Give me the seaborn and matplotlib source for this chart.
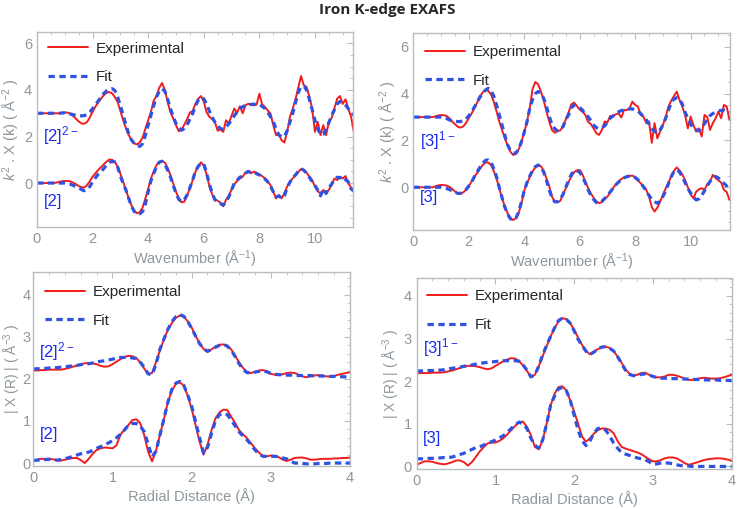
import numpy as np
import matplotlib
matplotlib.use("Agg")
import matplotlib.pyplot as plt
import seaborn as sns
from matplotlib.ticker import MultipleLocator

# ---- k-space (top row), sampled every 0.1 A^-1 from 0 to 11.4 ----
k = np.round(np.arange(0, 11.41, 0.1), 1)

# [2] panel, dianion trace (offset +3) and neutral trace
k2_exp_hi = [3.00, 3.00, 3.00, 3.00, 3.00, 3.00, 3.00, 3.00, 3.00, 3.02,
             3.03, 3.03, 2.98, 2.88, 2.77, 2.65, 2.56, 2.55, 2.62, 2.82,
             3.06, 3.28, 3.46, 3.63, 3.77, 3.88, 3.91, 3.86, 3.70, 3.49,
             3.10, 2.70, 2.35, 2.06, 1.85, 1.70, 1.66, 1.76, 1.95, 2.34,
             2.70, 3.06, 3.55, 3.75, 4.10, 4.30, 4.00, 3.49, 3.05, 2.78,
             2.49, 2.23, 2.30, 2.51, 2.75, 3.03, 3.10, 3.40, 3.62, 3.74,
             3.50, 3.05, 2.85, 2.75, 2.62, 2.25, 2.30, 2.20, 2.70, 2.56,
             2.90, 3.20, 3.03, 3.30, 3.00, 3.34, 3.41, 3.36, 3.34, 3.37,
             3.84, 3.38, 3.27, 3.12, 2.99, 2.49, 2.06, 2.10, 1.84, 1.74,
             2.20, 2.84, 3.20, 3.60, 4.10, 4.60, 4.20, 4.13, 3.70, 3.20,
             2.20, 2.63, 2.06, 2.49, 2.06, 2.63, 2.80, 3.20, 3.63, 3.74,
             3.40, 3.60, 3.20, 2.84, 2.20]
k2_fit_hi = [3.00, 3.00, 3.00, 3.00, 3.00, 3.00, 3.00, 3.00, 3.00, 3.01,
             3.02, 3.00, 2.97, 2.94, 2.91, 2.89, 2.89, 2.90, 2.94, 3.05,
             3.20, 3.36, 3.52, 3.70, 3.85, 3.96, 4.04, 4.06, 3.98, 3.70,
             3.34, 2.92, 2.49, 2.12, 1.85, 1.70, 1.60, 1.58, 1.70, 2.05,
             2.49, 2.92, 3.34, 3.70, 3.95, 4.06, 3.95, 3.60, 3.20, 2.86,
             2.56, 2.38, 2.27, 2.35, 2.49, 2.75, 2.99, 3.30, 3.56, 3.68,
             3.62, 3.40, 3.10, 2.84, 2.62, 2.45, 2.34, 2.31, 2.40, 2.55,
             2.70, 2.90, 3.05, 3.20, 3.28, 3.34, 3.37, 3.38, 3.39, 3.39,
             3.36, 3.30, 3.20, 3.05, 2.85, 2.63, 2.35, 2.06, 2.00, 1.99,
             2.25, 2.63, 3.00, 3.45, 3.90, 4.15, 4.17, 4.00, 3.60, 3.15,
             2.70, 2.35, 2.08, 2.10, 2.30, 2.60, 2.90, 3.15, 3.40, 3.51,
             3.45, 3.35, 3.20, 3.05, 2.91]
k2_exp_lo = [0.00, 0.00, 0.00, 0.00, 0.00, 0.00, 0.00, 0.02, 0.05, 0.08,
             0.09, 0.09, 0.07, 0.02, -0.05, -0.13, -0.18, -0.19, -0.09, 0.08,
             0.27, 0.42, 0.56, 0.68, 0.80, 0.92, 1.01, 1.00, 0.92, 0.70,
             0.40, 0.06, -0.30, -0.66, -0.97, -1.20, -1.30, -1.25, -1.05, -0.66,
             -0.25, 0.20, 0.50, 0.77, 0.90, 0.94, 0.88, 0.65, 0.34, -0.02,
             -0.37, -0.65, -0.83, -0.80, -0.55, -0.23, 0.12, 0.49, 0.72, 0.89,
             0.75, 0.38, -0.12, -0.48, -0.70, -0.76, -0.85, -1.00, -0.72, -0.55,
             -0.28, -0.05, 0.09, 0.20, 0.27, 0.45, 0.51, 0.42, 0.49, 0.44,
             0.37, 0.30, 0.20, 0.08, -0.09, -0.37, -0.66, -0.52, -0.66, -0.44,
             -0.15, 0.06, 0.20, 0.34, 0.48, 0.60, 0.55, 0.45, 0.27, 0.13,
             -0.16, -0.35, -0.45, -0.30, -0.40, -0.30, -0.05, 0.19, 0.13, 0.27,
             0.20, 0.30, -0.01, -0.20, -0.30]
k2_fit_lo = [0.00, 0.00, 0.00, 0.00, 0.00, 0.00, 0.00, 0.00, 0.00, 0.00,
             0.00, -0.02, -0.05, -0.10, -0.15, -0.20, -0.28, -0.33, -0.27, -0.15,
             0.06, 0.22, 0.38, 0.49, 0.62, 0.77, 0.88, 0.93, 0.90, 0.70,
             0.30, -0.02, -0.30, -0.66, -1.00, -1.22, -1.34, -1.32, -1.22, -0.90,
             -0.37, 0.10, 0.41, 0.70, 0.90, 0.94, 0.80, 0.56, 0.27, -0.10,
             -0.44, -0.70, -0.80, -0.72, -0.51, -0.20, 0.13, 0.50, 0.72, 0.85,
             0.82, 0.45, -0.05, -0.42, -0.72, -0.80, -0.88, -0.95, -0.80, -0.60,
             -0.30, 0.00, 0.12, 0.25, 0.30, 0.42, 0.50, 0.45, 0.48, 0.40,
             0.35, 0.28, 0.18, 0.05, -0.12, -0.38, -0.60, -0.55, -0.65, -0.55,
             -0.20, 0.04, 0.22, 0.35, 0.50, 0.62, 0.55, 0.42, 0.25, 0.05,
             -0.10, -0.30, -0.55, -0.25, -0.45, -0.20, -0.05, 0.15, 0.25, 0.22,
             0.30, 0.15, 0.05, -0.25, -0.35]

# [3] panel, monoanion trace (offset +3) and neutral trace
k3_exp_hi = [3.00, 3.00, 3.00, 3.00, 3.00, 3.00, 3.00, 3.00, 3.03, 3.07,
             3.09, 3.08, 3.05, 2.95, 2.81, 2.70, 2.59, 2.55, 2.60, 2.75,
             2.95, 3.15, 3.38, 3.62, 3.87, 4.05, 4.16, 4.12, 3.98, 3.66,
             3.25, 2.81, 2.45, 2.09, 1.80, 1.52, 1.38, 1.42, 1.62, 1.95,
             2.35, 2.81, 3.40, 4.20, 4.50, 4.40, 4.10, 3.73, 3.25, 2.81,
             2.45, 2.33, 2.41, 2.43, 2.62, 2.90, 3.20, 3.55, 3.62, 3.47,
             3.32, 3.23, 3.10, 2.80, 2.70, 2.52, 2.31, 2.24, 2.45, 2.81,
             2.78, 3.05, 3.02, 3.12, 3.16, 2.98, 3.30, 3.30, 3.38, 3.66,
             3.52, 3.45, 3.09, 3.02, 2.74, 2.81, 1.90, 2.74, 2.09, 2.38,
             2.66, 3.00, 3.45, 3.70, 3.90, 4.09, 3.73, 3.45, 3.09, 2.52,
             3.02, 2.66, 2.38, 2.52, 2.17, 3.09, 3.00, 2.45, 2.74, 2.95,
             3.23, 2.95, 3.52, 3.45, 2.88]
k3_fit_hi = [3.00, 3.00, 3.00, 3.00, 3.00, 3.00, 3.00, 3.00, 3.00, 3.00,
             3.00, 2.98, 2.94, 2.88, 2.84, 2.82, 2.81, 2.81, 2.84, 2.92,
             3.05, 3.23, 3.42, 3.62, 3.85, 4.02, 4.15, 4.23, 4.15, 3.90,
             3.52, 3.10, 2.66, 2.22, 1.81, 1.58, 1.45, 1.47, 1.62, 1.95,
             2.35, 2.80, 3.38, 3.75, 4.00, 4.09, 4.02, 3.80, 3.45, 3.05,
             2.66, 2.50, 2.41, 2.48, 2.59, 2.90, 3.10, 3.40, 3.52, 3.48,
             3.40, 3.30, 3.15, 3.02, 2.85, 2.66, 2.55, 2.52, 2.56, 2.62,
             2.78, 2.95, 3.05, 3.16, 3.22, 3.28, 3.30, 3.33, 3.35, 3.35,
             3.30, 3.25, 3.15, 3.02, 2.88, 2.70, 2.50, 2.40, 2.31, 2.45,
             2.66, 2.95, 3.30, 3.60, 3.77, 3.83, 3.78, 3.55, 3.20, 2.95,
             2.70, 2.52, 2.45, 2.41, 2.55, 2.72, 2.90, 3.06, 3.15, 3.22,
             3.26, 3.28, 3.30, 3.25, 3.20]
k3_exp_lo = [0.00, 0.00, 0.00, 0.00, 0.00, 0.00, 0.00, 0.00, 0.04, 0.08,
             0.10, 0.09, 0.07, 0.02, -0.07, -0.18, -0.26, -0.28, -0.22, -0.11,
             0.05, 0.24, 0.45, 0.60, 0.78, 0.95, 1.05, 1.06, 0.95, 0.70,
             0.38, -0.05, -0.47, -0.82, -1.11, -1.32, -1.40, -1.32, -1.10, -0.68,
             -0.15, 0.17, 0.45, 0.67, 0.85, 0.95, 0.90, 0.72, 0.38, 0.05,
             -0.40, -0.62, -0.64, -0.58, -0.30, -0.04, 0.22, 0.46, 0.65, 0.72,
             0.74, 0.55, 0.24, -0.02, -0.26, -0.45, -0.60, -0.68, -0.64, -0.50,
             -0.40, -0.22, -0.04, 0.12, 0.24, 0.35, 0.42, 0.46, 0.48, 0.50,
             0.42, 0.30, 0.17, 0.05, -0.11, -0.40, -0.85, -1.04, -0.87, -0.61,
             -0.33, -0.05, 0.20, 0.45, 0.70, 0.85, 0.72, 0.55, 0.30, 0.00,
             -0.30, -0.47, -0.19, -0.09, -0.04, -0.11, 0.13, 0.24, 0.53, 0.40,
             0.30, 0.20, -0.11, -0.20, -0.54]
k3_fit_lo = [0.00, 0.00, 0.00, 0.00, 0.00, 0.00, 0.00, 0.00, 0.00, 0.00,
             0.00, -0.02, -0.05, -0.10, -0.15, -0.21, -0.26, -0.26, -0.20, -0.10,
             0.05, 0.22, 0.45, 0.65, 0.85, 1.02, 1.15, 1.17, 1.08, 0.80,
             0.45, 0.00, -0.45, -0.85, -1.15, -1.35, -1.40, -1.32, -1.05, -0.62,
             -0.15, 0.20, 0.48, 0.72, 0.88, 0.95, 0.88, 0.65, 0.30, -0.10,
             -0.45, -0.62, -0.62, -0.52, -0.30, 0.00, 0.30, 0.55, 0.70, 0.70,
             0.65, 0.45, 0.20, -0.10, -0.35, -0.52, -0.65, -0.68, -0.60, -0.48,
             -0.35, -0.20, -0.05, 0.10, 0.22, 0.32, 0.40, 0.45, 0.48, 0.48,
             0.42, 0.32, 0.18, 0.02, -0.15, -0.35, -0.52, -0.62, -0.68, -0.60,
             -0.40, -0.15, 0.15, 0.45, 0.68, 0.74, 0.65, 0.45, 0.20, -0.05,
             -0.25, -0.42, -0.54, -0.50, -0.35, -0.15, 0.05, 0.25, 0.40, 0.46,
             0.40, 0.28, 0.17, 0.05, -0.11]

# ---- R-space (bottom row), sampled every 0.05 A from 0 to 4 ----
r = np.round(np.arange(0, 4.001, 0.05), 2)

r2_exp_hi = [2.20, 2.20, 2.21, 2.21, 2.22, 2.22, 2.22, 2.22, 2.24, 2.26,
             2.29, 2.32, 2.35, 2.37, 2.38, 2.37, 2.35, 2.31, 2.29, 2.30,
             2.35, 2.41, 2.47, 2.52, 2.55, 2.54, 2.50, 2.39, 2.25, 2.12,
             2.14, 2.40, 2.68, 2.94, 3.17, 3.33, 3.45, 3.51, 3.48, 3.37,
             3.22, 3.02, 2.85, 2.71, 2.64, 2.70, 2.77, 2.81, 2.82, 2.79,
             2.70, 2.55, 2.39, 2.26, 2.16, 2.14, 2.17, 2.20, 2.21, 2.18,
             2.12, 2.10, 2.09, 2.11, 2.14, 2.15, 2.14, 2.10, 2.06, 2.04,
             2.06, 2.08, 2.09, 2.08, 2.06, 2.06, 2.07, 2.10, 2.12, 2.14,
             2.16]
r2_fit_hi = [2.24, 2.24, 2.25, 2.25, 2.26, 2.26, 2.27, 2.28, 2.29, 2.30,
             2.31, 2.32, 2.34, 2.35, 2.36, 2.38, 2.40, 2.42, 2.43, 2.45,
             2.47, 2.49, 2.51, 2.51, 2.51, 2.50, 2.48, 2.40, 2.28, 2.12,
             2.10, 2.35, 2.71, 2.95, 3.18, 3.36, 3.48, 3.53, 3.49, 3.37,
             3.20, 3.02, 2.84, 2.72, 2.66, 2.70, 2.75, 2.80, 2.82, 2.78,
             2.68, 2.53, 2.36, 2.22, 2.15, 2.14, 2.16, 2.18, 2.19, 2.17,
             2.13, 2.11, 2.10, 2.10, 2.09, 2.09, 2.08, 2.08, 2.08, 2.08,
             2.08, 2.07, 2.07, 2.07, 2.06, 2.06, 2.06, 2.06, 2.05, 2.05,
             2.05]
r2_exp_lo = [0.06, 0.08, 0.10, 0.10, 0.10, 0.09, 0.06, 0.06, 0.08, 0.10,
             0.12, 0.12, 0.07, 0.00, 0.10, 0.22, 0.31, 0.35, 0.37, 0.36,
             0.35, 0.42, 0.67, 0.80, 0.90, 1.02, 1.04, 0.95, 0.67, 0.27,
             0.04, 0.30, 0.67, 1.05, 1.45, 1.72, 1.88, 1.92, 1.84, 1.60,
             1.29, 0.90, 0.51, 0.20, 0.43, 0.78, 1.06, 1.20, 1.27, 1.26,
             1.10, 0.95, 0.78, 0.68, 0.59, 0.47, 0.35, 0.25, 0.16, 0.16,
             0.18, 0.17, 0.14, 0.08, 0.05, 0.08, 0.12, 0.13, 0.13, 0.11,
             0.08, 0.08, 0.09, 0.10, 0.10, 0.10, 0.11, 0.11, 0.12, 0.12,
             0.13]
r2_fit_lo = [0.06, 0.07, 0.08, 0.08, 0.09, 0.08, 0.07, 0.08, 0.10, 0.13,
             0.16, 0.19, 0.22, 0.24, 0.26, 0.30, 0.35, 0.39, 0.43, 0.48,
             0.53, 0.60, 0.68, 0.78, 0.90, 0.94, 0.94, 0.88, 0.75, 0.45,
             0.15, 0.28, 0.67, 1.05, 1.45, 1.75, 1.90, 1.94, 1.85, 1.62,
             1.35, 0.98, 0.60, 0.24, 0.37, 0.70, 1.00, 1.15, 1.18, 1.15,
             1.02, 0.88, 0.74, 0.64, 0.55, 0.44, 0.31, 0.22, 0.16, 0.16,
             0.16, 0.16, 0.15, 0.12, 0.10, 0.05, 0.00, 0.00, -0.01, -0.02,
             -0.02, -0.02, -0.01, -0.01, -0.01, 0.00, 0.00, 0.00, 0.00, 0.00,
             0.00]

r3_exp_hi = [2.19, 2.19, 2.19, 2.19, 2.20, 2.20, 2.20, 2.21, 2.23, 2.25,
             2.28, 2.31, 2.34, 2.36, 2.36, 2.35, 2.33, 2.30, 2.28, 2.30,
             2.36, 2.41, 2.47, 2.51, 2.54, 2.53, 2.47, 2.37, 2.24, 2.10,
             2.15, 2.35, 2.59, 2.82, 3.05, 3.24, 3.40, 3.48, 3.45, 3.36,
             3.20, 3.02, 2.85, 2.71, 2.63, 2.69, 2.75, 2.79, 2.81, 2.78,
             2.71, 2.58, 2.44, 2.28, 2.18, 2.13, 2.15, 2.19, 2.20, 2.15,
             2.11, 2.09, 2.09, 2.11, 2.15, 2.15, 2.13, 2.10, 2.06, 2.03,
             2.03, 2.05, 2.07, 2.08, 2.07, 2.06, 2.06, 2.07, 2.09, 2.12,
             2.15]
r3_fit_hi = [2.24, 2.24, 2.24, 2.25, 2.25, 2.26, 2.26, 2.27, 2.29, 2.30,
             2.32, 2.33, 2.35, 2.36, 2.38, 2.40, 2.42, 2.43, 2.44, 2.45,
             2.46, 2.47, 2.48, 2.48, 2.48, 2.48, 2.47, 2.38, 2.26, 2.10,
             2.15, 2.35, 2.62, 2.84, 3.05, 3.25, 3.42, 3.48, 3.45, 3.36,
             3.18, 2.98, 2.84, 2.70, 2.63, 2.68, 2.76, 2.80, 2.81, 2.77,
             2.71, 2.58, 2.42, 2.26, 2.16, 2.13, 2.13, 2.16, 2.17, 2.15,
             2.11, 2.09, 2.07, 2.07, 2.06, 2.06, 2.06, 2.05, 2.05, 2.05,
             2.04, 2.04, 2.04, 2.03, 2.03, 2.03, 2.03, 2.02, 2.02, 2.02,
             2.01]
r3_exp_lo = [0.04, 0.08, 0.12, 0.12, 0.11, 0.08, 0.06, 0.05, 0.07, 0.10,
             0.14, 0.14, 0.10, 0.02, 0.10, 0.22, 0.35, 0.45, 0.54, 0.56,
             0.56, 0.60, 0.66, 0.75, 0.85, 0.95, 1.04, 1.05, 0.93, 0.73,
             0.46, 0.40, 0.62, 1.00, 1.43, 1.70, 1.86, 1.88, 1.78, 1.55,
             1.28, 1.00, 0.70, 0.58, 0.66, 0.77, 0.85, 0.89, 0.89, 0.86,
             0.78, 0.60, 0.46, 0.42, 0.39, 0.36, 0.33, 0.29, 0.23, 0.17,
             0.12, 0.12, 0.15, 0.19, 0.21, 0.21, 0.19, 0.14, 0.08, 0.04,
             0.06, 0.09, 0.12, 0.15, 0.17, 0.18, 0.19, 0.19, 0.18, 0.16,
             0.13]
r3_fit_lo = [0.18, 0.18, 0.18, 0.19, 0.19, 0.20, 0.20, 0.21, 0.21, 0.22,
             0.25, 0.28, 0.31, 0.35, 0.40, 0.44, 0.46, 0.50, 0.54, 0.58,
             0.62, 0.67, 0.72, 0.80, 0.89, 0.97, 1.04, 1.00, 0.89, 0.66,
             0.50, 0.43, 0.62, 1.00, 1.43, 1.65, 1.82, 1.85, 1.78, 1.55,
             1.20, 0.85, 0.60, 0.49, 0.60, 0.78, 0.89, 0.90, 0.85, 0.72,
             0.55, 0.43, 0.33, 0.29, 0.26, 0.23, 0.20, 0.18, 0.16, 0.11,
             0.05, 0.06, 0.08, 0.08, 0.08, 0.06, 0.04, 0.02, 0.01, 0.01,
             0.00, 0.00, 0.00, 0.00, 0.00, 0.00, 0.00, 0.00, 0.00, 0.00,
             0.00]

for s in [k2_exp_hi, k2_fit_hi, k2_exp_lo, k2_fit_lo, k3_exp_hi, k3_fit_hi, k3_exp_lo, k3_fit_lo]:
    assert len(s) == len(k), len(s)
for s in [r2_exp_hi, r2_fit_hi, r2_exp_lo, r2_fit_lo, r3_exp_hi, r3_fit_hi, r3_exp_lo, r3_fit_lo]:
    assert len(s) == len(r), len(s)

# ---- style ----
sns.set_style("white")
plt.rcParams['font.family'] = ['Liberation Sans', 'DejaVu Sans']
plt.rcParams['mathtext.fontset'] = 'custom'
plt.rcParams['mathtext.rm'] = 'Liberation Sans'
plt.rcParams['mathtext.it'] = 'Liberation Sans:italic'

RED = '#f21c1c'
BLUE = '#2f52e0'
TAG = '#1a2cf0'
GREY_TXT = '#8d979d'
FRAME = '#b9bdc1'

fig = plt.figure(figsize=(7.37, 5.09), dpi=100)


def draw_panel(rect, x, exp_hi, fit_hi, exp_lo, fit_lo, xlim, ylim):
    ax = fig.add_axes(rect)
    sns.lineplot(x=x, y=exp_hi, ax=ax, color=RED, lw=1.4, label='Experimental', legend=False)
    sns.lineplot(x=x, y=fit_hi, ax=ax, color=BLUE, lw=2.3, linestyle=(0, (2.0, 1.4)), label='Fit', legend=False)
    sns.lineplot(x=x, y=exp_lo, ax=ax, color=RED, lw=1.4, legend=False)
    sns.lineplot(x=x, y=fit_lo, ax=ax, color=BLUE, lw=2.3, linestyle=(0, (2.0, 1.4)), legend=False)
    ax.set_xlim(*xlim)
    ax.set_ylim(*ylim)
    for sp in ax.spines.values():
        sp.set_color(FRAME)
        sp.set_linewidth(1.0)
    ax.tick_params(which='both', direction='in', top=True, right=True,
                   color=FRAME, labelcolor=GREY_TXT, labelsize=10.5, pad=3.5)
    ax.tick_params(which='major', length=4, width=0.8)
    ax.tick_params(which='minor', length=2, width=0.6)
    return ax


def style_legend(ax, anchor):
    ax.legend(loc='upper left', bbox_to_anchor=anchor, frameon=False, fontsize=11,
              handlelength=2.6, handletextpad=0.5, labelspacing=0.95,
              borderpad=0, borderaxespad=0)


# top-left: k-space [2]
ax1 = draw_panel([0.0502, 0.554, 0.4288, 0.383], k, k2_exp_hi, k2_fit_hi, k2_exp_lo, k2_fit_lo,
                 (0, 11.37), (-1.89, 6.49))
# top-right: k-space [3]
ax2 = draw_panel([0.5608, 0.548, 0.4297, 0.3865], k, k3_exp_hi, k3_fit_hi, k3_exp_lo, k3_fit_lo,
                 (0, 11.42), (-1.83, 6.58))
# bottom-left: R-space [2]
ax3 = draw_panel([0.0452, 0.0845, 0.4297, 0.3818], r, r2_exp_hi, r2_fit_hi, r2_exp_lo, r2_fit_lo,
                 (0, 4), (-0.07, 4.55))
# bottom-right: R-space [3]
ax4 = draw_panel([0.5654, 0.0786, 0.4274, 0.3752], r, r3_exp_hi, r3_fit_hi, r3_exp_lo, r3_fit_lo,
                 (0, 4), (-0.06, 4.42))

for ax in (ax1, ax2):
    ax.xaxis.set_major_locator(MultipleLocator(2))
    ax.xaxis.set_minor_locator(MultipleLocator(0.5))
    ax.yaxis.set_major_locator(MultipleLocator(2))
    ax.yaxis.set_minor_locator(MultipleLocator(0.5))
    ax.set_xlabel('Wavenumber (Å$^{-1}$)', color=GREY_TXT, fontsize=10.5, labelpad=2)
    ax.set_ylabel('$k^2$ . X (k) ( Å$^{-2}$ )', color=GREY_TXT, fontsize=10.5, labelpad=1)

for ax in (ax3, ax4):
    ax.xaxis.set_major_locator(MultipleLocator(1))
    ax.xaxis.set_minor_locator(MultipleLocator(0.2))
    ax.yaxis.set_major_locator(MultipleLocator(1))
    ax.yaxis.set_minor_locator(MultipleLocator(0.2))
    ax.set_xlabel('Radial Distance (Å)', color=GREY_TXT, fontsize=10.5, labelpad=2)
    ax.set_ylabel('| X (R) | ( Å$^{-3}$ )', color=GREY_TXT, fontsize=10, labelpad=1)

# bottom-left panel sits close to the figure edge: tighten its y tick labels and label
ax3.tick_params(axis='y', which='both', pad=2)
ax3.yaxis.set_label_coords(-0.031, 0.5)

style_legend(ax1, (0.035, 0.95))
style_legend(ax2, (0.037, 0.94))
style_legend(ax3, (0.037, 0.93))
style_legend(ax4, (0.033, 0.94))

# compound tags
ax1.text(0.23, 2.03, '[2]$^{2-}$', color=TAG, fontsize=12, va='center')
ax1.text(0.23, -0.78, '[2]', color=TAG, fontsize=12, va='center')
ax2.text(0.24, 1.98, '[3]$^{1-}$', color=TAG, fontsize=12, va='center')
ax2.text(0.24, -0.45, '[3]', color=TAG, fontsize=12, va='center')
ax3.text(0.07, 2.65, '[2]$^{2-}$', color=TAG, fontsize=12, va='center')
ax3.text(0.08, 0.67, '[2]', color=TAG, fontsize=12, va='center')
ax4.text(0.08, 2.78, '[3]$^{1-}$', color=TAG, fontsize=12, va='center')
ax4.text(0.08, 0.66, '[3]', color=TAG, fontsize=12, va='center')

fig.text(0.526, 0.98, 'Iron K-edge EXAFS', ha='center', va='center',
         fontsize=11, fontweight='bold', family='Open Sans')

fig.savefig('out.png', dpi=100)
